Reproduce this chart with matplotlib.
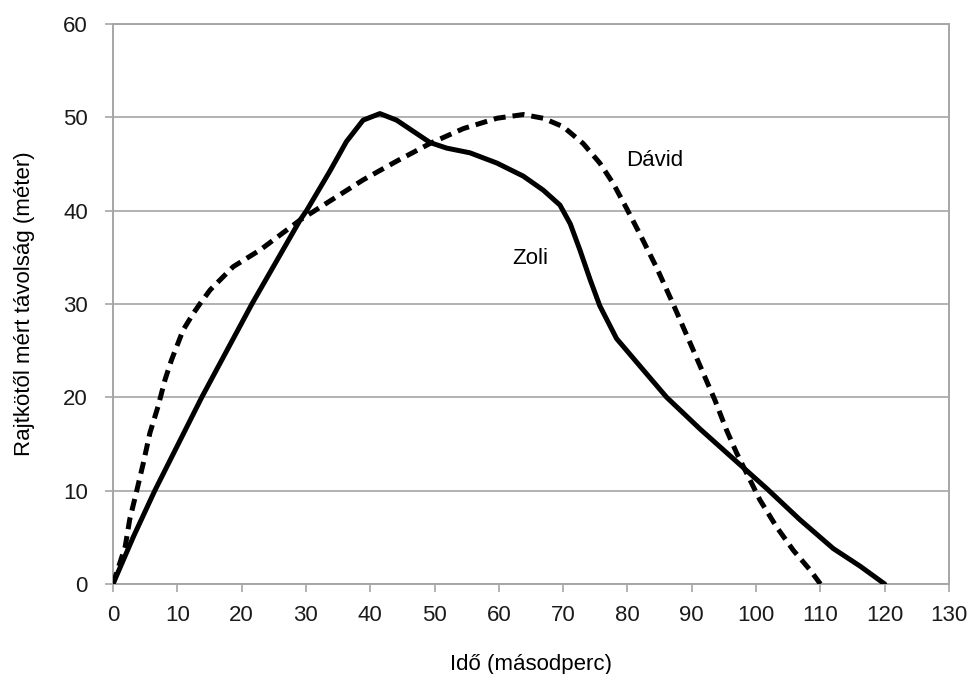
import matplotlib.pyplot as plt

plt.rcParams['font.family'] = ['Liberation Sans Narrow', 'Liberation Sans', 'DejaVu Sans']

# Zoli (solid line) - time (s), distance (m)
zoli_t = [0, 3.2, 6.5, 13.8, 21.6, 29.1, 30.1, 33.7, 36.3, 38.9, 41.5, 44.1, 46.7,
          49.3, 51.9, 55.5, 59.7, 63.8, 66.9, 69.5, 71.1, 72.6, 74.2, 75.7, 78.3,
          82.5, 86.1, 91.3, 96.5, 101.7, 106.8, 112.0, 116.2, 120]
zoli_d = [0, 5.1, 10, 20, 30, 39.0, 40, 44.2, 47.4, 49.7, 50.4, 49.7, 48.5,
          47.3, 46.7, 46.2, 45.1, 43.7, 42.2, 40.6, 38.6, 35.8, 32.6, 29.8, 26.3,
          22.9, 20.0, 16.6, 13.4, 10.2, 6.9, 3.8, 1.9, 0]

# Dávid (dashed line)
david_t = [0, 1.9, 2.6, 3.7, 4.7, 5.75, 7.0, 8.1, 9.1, 10.9, 12.5, 13.5, 15.1, 18.7,
           22.9, 29.1, 34.8, 38.9, 44.1, 49.3, 54.5, 59.7, 63.8, 66.9, 70.0, 73.1,
           75.7, 77.8, 79.9, 82.0, 84.6, 87.1, 90.2, 93.6, 95.4, 97.0, 98.8, 100.6,
           103.2, 105.8, 108.4, 110]
david_d = [0, 4.0, 6.9, 10, 12.9, 16.2, 19.0, 21.9, 24.0, 27.2, 29.0, 30, 31.5, 34.0,
           35.8, 39.0, 41.5, 43.3, 45.3, 47.2, 48.8, 49.9, 50.3, 49.9, 49.0, 47.2,
           45.1, 42.9, 40.2, 37.4, 33.8, 30, 25.1, 19.7, 16.5, 14.0, 11.5, 9.0,
           6.1, 3.6, 1.5, 0]

x_ticks = list(range(0, 131, 10))
y_ticks = list(range(0, 61, 10))

fig = plt.figure(figsize=(9.68, 6.74), dpi=100)
ax = fig.add_axes([0.1167, 0.1335, 0.8637, 0.8309])

grid_c = '#a6a6a6'
ax.plot(zoli_t, zoli_d, color='black', lw=3.6, solid_joinstyle='round',
        solid_capstyle='round', zorder=3)
ax.plot(david_t, david_d, color='black', lw=3.6, dashes=(2.4, 1.4),
        dash_capstyle='butt', dash_joinstyle='round', zorder=3)

ax.text(84.3, 45.4, 'Dávid', fontsize=16, ha='center', va='center')
ax.text(64.9, 34.9, 'Zoli', fontsize=16, ha='center', va='center')

ax.set_xlim(0, 130)
ax.set_ylim(0, 60)
ax.set_xticks(x_ticks)
ax.set_yticks(y_ticks)
ax.yaxis.grid(True, color=grid_c, lw=1.2)
ax.set_axisbelow(True)
for s in ax.spines.values():
    s.set_color(grid_c)
    s.set_linewidth(1.4)
ax.tick_params(axis='both', direction='out', length=6, width=1.2, color=grid_c,
               labelsize=16, labelcolor='#1a1a1a')
ax.tick_params(axis='x', pad=9)
ax.tick_params(axis='y', pad=12)

ax.set_xlabel('Idő (másodperc)', fontsize=16, labelpad=20)
ax.set_ylabel('Rajtkötől mért távolság (méter)', fontsize=16, labelpad=20)

fig.savefig('out.png', dpi=100)
